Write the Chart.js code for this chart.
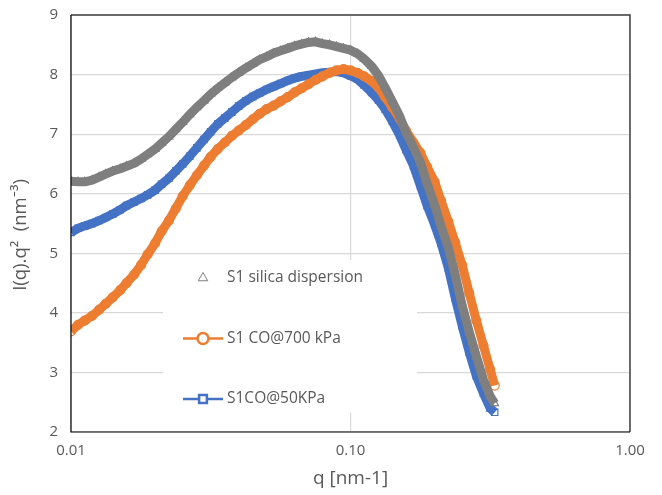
<!DOCTYPE html>
<html>
<head>
<meta charset="utf-8">
<script src="https://cdn.jsdelivr.net/npm/chart.js@4.4.0/dist/chart.umd.min.js"></script>
<style>
  html, body { margin: 0; padding: 0; background: #fff; }
  #wrap { width: 662px; height: 495px; }
</style>
</head>
<body>
<div id="wrap"><canvas id="chart"></canvas></div>
<script>
// q values [nm-1]
var q = [0.0100, 0.0106, 0.0112, 0.0119, 0.0126, 0.0133, 0.0141, 0.0150, 0.0158, 0.0168,
         0.0178, 0.0188, 0.0200, 0.0211, 0.0224, 0.0237, 0.0251, 0.0266, 0.0282, 0.0299,
         0.0316, 0.0335, 0.0355, 0.0376, 0.0398, 0.0422, 0.0447, 0.0473, 0.0501, 0.0531,
         0.0562, 0.0596, 0.0631, 0.0668, 0.0708, 0.0750, 0.0794, 0.0841, 0.0891, 0.0944,
         0.100, 0.106, 0.112, 0.119, 0.126, 0.133, 0.141, 0.150, 0.158, 0.168,
         0.178, 0.188, 0.200, 0.211, 0.224, 0.237, 0.251, 0.266, 0.282, 0.299,
         0.316, 0.328];

// I(q).q^2 for each sample
var silica = [6.21, 6.20, 6.20, 6.23, 6.28, 6.33, 6.38, 6.42, 6.46, 6.51,
              6.58, 6.66, 6.75, 6.85, 6.96, 7.08, 7.20, 7.33, 7.45, 7.56,
              7.67, 7.77, 7.86, 7.95, 8.03, 8.11, 8.18, 8.25, 8.30, 8.36,
              8.40, 8.44, 8.48, 8.51, 8.54, 8.55, 8.52, 8.50, 8.47, 8.44,
              8.41, 8.35, 8.26, 8.14, 7.98, 7.78, 7.55, 7.30, 7.03, 6.78,
              6.52, 6.17, 5.81, 5.45, 5.09, 4.64, 4.12, 3.68, 3.27, 2.88,
              2.60, 2.48];
var co700 = [3.69, 3.80, 3.87, 3.95, 4.05, 4.15, 4.26, 4.38, 4.50, 4.64,
             4.80, 4.98, 5.17, 5.37, 5.55, 5.75, 5.96, 6.14, 6.31, 6.47,
             6.62, 6.75, 6.86, 6.97, 7.06, 7.15, 7.25, 7.34, 7.42, 7.48,
             7.55, 7.62, 7.70, 7.77, 7.84, 7.91, 7.97, 8.03, 8.07, 8.09,
             8.07, 8.03, 7.97, 7.89, 7.78, 7.62, 7.45, 7.26, 7.06, 6.86,
             6.68, 6.45, 6.20, 5.88, 5.53, 5.18, 4.80, 4.33, 3.87, 3.45,
             3.05, 2.78];
var co50 = [5.35, 5.42, 5.46, 5.50, 5.55, 5.60, 5.66, 5.73, 5.80, 5.86,
            5.92, 5.98, 6.06, 6.16, 6.26, 6.38, 6.50, 6.63, 6.77, 6.91,
            7.04, 7.17, 7.27, 7.37, 7.47, 7.56, 7.63, 7.69, 7.75, 7.80,
            7.85, 7.90, 7.94, 7.97, 7.99, 8.01, 8.03, 8.04, 8.05, 8.03,
            7.98, 7.92, 7.82, 7.70, 7.57, 7.42, 7.22, 6.98, 6.74, 6.47,
            6.13, 5.80, 5.48, 5.17, 4.75, 4.25, 3.78, 3.34, 2.94, 2.65,
            2.40, 2.33];

var seriesNames = ["S1 silica dispersion", "S1 CO@700 kPa", "S1CO@50KPa"];
var seriesColors = ["#7f7f7f", "#ed7d31", "#4472c4"];
var seriesMarkers = ["triangle", "circle", "rect"];

var xTicks = [0.01, 0.1, 1];
var xTickLabels = ["0.01", "0.10", "1.00"];
var xTitle = "q [nm-1]";
var yTitle = "I(q).q\u00b2  (nm\u207b\u00b3)";

var FONT = '"Open Sans", "Noto Sans", sans-serif';
var TEXT = "#595959";

function toPoints(ys) {
	return q.map(function(v, i) { return { x: v, y: ys[i] }; });
}

var datasets = [silica, co700, co50].map(function(ys, i) {
	return {
		label: seriesNames[i],
		data: toPoints(ys),
		showLine: true,
		borderColor: seriesColors[i],
		borderWidth: 9,
		borderJoinStyle: 'round',
		borderCapStyle: 'butt',
		pointStyle: seriesMarkers[i],
		pointRadius: 4.5,
		pointBorderWidth: 1.2,
		pointBorderColor: seriesColors[i],
		pointBackgroundColor: 'rgba(255,255,255,0)'
	};
});

// Excel-like legend sitting inside the plot, axis titles and the plot frame
var excelFrame = {
	id: 'excelFrame',
	beforeDatasetsDraw: function(chart) {
		var a = chart.chartArea, ctx = chart.ctx;
		ctx.save();
		var bx = a.left + 92, by = a.top + 245;
		ctx.fillStyle = '#fff';
		ctx.fillRect(bx, by, 254, 153);

		ctx.font = '15.5px ' + FONT;
		ctx.textBaseline = 'middle';
		for (var i = 0; i < seriesNames.length; i++) {
			var cy = by + 18 + i * 60.5;
			var mx = bx + 40;
			if (i > 0) {
				ctx.strokeStyle = seriesColors[i];
				ctx.lineWidth = 2.5;
				ctx.beginPath();
				ctx.moveTo(bx + 20, cy);
				ctx.lineTo(bx + 60, cy);
				ctx.stroke();
			}
			ctx.fillStyle = '#fff';
			ctx.strokeStyle = seriesColors[i];
			Chart.helpers.drawPoint(ctx, {
				pointStyle: seriesMarkers[i], radius: 5.5, borderWidth: 1.3, rotation: 0
			}, mx, cy);
			ctx.fillStyle = TEXT;
			ctx.fillText(seriesNames[i], bx + 64, cy);
		}
		ctx.restore();
	},
	afterDraw: function(chart) {
		var a = chart.chartArea, ctx = chart.ctx;
		ctx.save();
		ctx.strokeStyle = '#404040';
		ctx.lineWidth = 1.5;
		ctx.beginPath();
		ctx.moveTo(a.left, a.top);
		ctx.lineTo(a.right, a.top);
		ctx.lineTo(a.right, a.bottom);
		ctx.stroke();
		ctx.strokeStyle = '#000';
		ctx.lineWidth = 1.2;
		ctx.beginPath();
		ctx.moveTo(a.left, a.top);
		ctx.lineTo(a.left, a.bottom);
		ctx.lineTo(a.right, a.bottom);
		ctx.stroke();

		// axis titles
		ctx.fillStyle = TEXT;
		ctx.textAlign = 'center';
		ctx.textBaseline = 'middle';
		ctx.font = '19px ' + FONT;
		ctx.fillText(xTitle, (a.left + a.right) / 2, a.bottom + 47);
		ctx.translate(21, a.top + 220);
		ctx.rotate(-Math.PI / 2);
		ctx.font = '18.5px ' + FONT;
		ctx.fillText(yTitle, 0, 0);
		ctx.restore();
	}
};

var ctx = document.getElementById("chart").getContext("2d");
var chart = new Chart(ctx, {
	type: 'scatter',
	data: { datasets: datasets },
	plugins: [excelFrame],
	options: {
		responsive: true,
		maintainAspectRatio: false,
		animation: false,
		layout: { padding: { left: 0, top: 15, right: 32, bottom: 0 } },
		plugins: {
			legend: { display: false },
			tooltip: { enabled: false }
		},
		scales: {
			x: {
				type: 'logarithmic',
				min: 0.01,
				max: 1,
				afterBuildTicks: function(scale) {
					scale.ticks = xTicks.map(function(v) { return { value: v }; });
				},
				afterFit: function(scale) {
					scale.height = 63;
					scale.paddingLeft = 0;
					scale.paddingRight = 0;
				},
				ticks: {
					autoSkip: false,
					maxRotation: 0,
					padding: 10,
					color: TEXT,
					font: { family: FONT, size: 15 },
					callback: function(v, i) { return xTickLabels[i]; }
				},
				grid: { color: '#d9d9d9', lineWidth: 1.2, drawTicks: false },
				border: { display: false }
			},
			y: {
				min: 2,
				max: 9,
				afterFit: function(scale) {
					scale.width = 71;
					scale.paddingTop = 0;
					scale.paddingBottom = 0;
				},
				ticks: {
					stepSize: 1,
					padding: 13,
					color: TEXT,
					font: { family: FONT, size: 15 }
				},
				grid: { color: '#d9d9d9', lineWidth: 1.2, drawTicks: false },
				border: { display: false }
			}
		}
	}
});
</script>
</body>
</html>
